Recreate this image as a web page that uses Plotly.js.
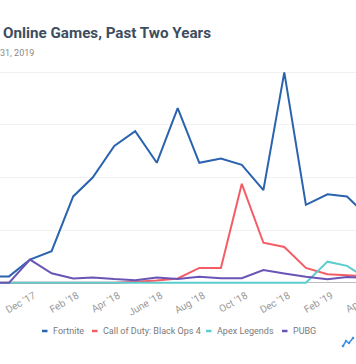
<!DOCTYPE html>
<html>
<head>
<meta charset="utf-8">
<script src="https://cdn.plot.ly/plotly-3.0.1.min.js"></script>
<style>
  html, body { margin: 0; padding: 0; width: 356px; height: 364px; overflow: hidden; background: #fff; }
  #chart { position: absolute; left: -60px; top: 0; width: 476px; height: 364px; }
</style>
</head>
<body>
<div id="chart"></div>
<script>
// ---- data (Google Trends style interest, 0-100) ----
const months = ['2017-10-01','2017-11-01','2017-12-01','2018-01-01','2018-02-01','2018-03-01','2018-04-01',
  '2018-05-01','2018-06-01','2018-07-01','2018-08-01','2018-09-01','2018-10-01','2018-11-01','2018-12-01',
  '2019-01-01','2019-02-01','2019-03-01','2019-04-01'];
const fortnite = [3, 3, 11, 15, 41, 50, 65, 72, 57, 83, 57, 59, 56, 44, 100, 37, 42, 41, 31];
const codBlackOps4 = [0, 0, 0, 0, 0, 0, 0, 0.5, 1, 2, 7, 7, 47, 19, 17, 7, 4, 3.5, 3];
const apexLegends = [0, 0, 0, 0, 0, 0, 0, 0, 0, 0, 0, 0, 0, 0, 0, 0, 10, 8, 1.5];
const pubg = [0, 0, 11, 4.5, 2, 2.5, 1.7, 1.2, 2.5, 1.7, 2.8, 2.1, 2.1, 6, 4.4, 2.8, 1.6, 2.7, 2.2];
const seriesNames = ['Fortnite', 'Call of Duty: Black Ops 4', 'Apex Legends', 'PUBG'];
const tickDates = ['2017-12-01','2018-02-01','2018-04-01','2018-06-01','2018-08-01','2018-10-01','2018-12-01','2019-02-01','2019-04-01'];
const tickLabels = ["Dec '17","Feb '18","Apr '18","June '18","Aug '18","Oct '18","Dec '18","Feb '19","Apr '19"];
const titleText = 'Online Games, Past Two Years';
const subtitleText = '31, 2019';

// ---- styling / geometry ----
const colors = ['#2a63ae', '#f45d66', '#5ccdcf', '#6a55b6'];
const FONT = 'Roboto, "Open Sans", sans-serif';
const DIV_LEFT = 60, DIV_W = 476, H = 364, MT = 66, MB = 75;
const PLOT_H = H - MT - MB;
const px = x => (x + DIV_LEFT) / DIV_W;
const py = y => (H - MB - y) / PLOT_H;

// x range: Dec 1 2017 at page x=30, Mar 1 2019 at page x=347
const tA = Date.parse('2017-12-01T00:00:00Z'), tB = Date.parse('2019-03-01T00:00:00Z');
const mpp = (tB - tA) / (347 - 30);
const xStart = tA - (30 + DIV_LEFT) * mpp;
const xEnd = xStart + DIV_W * mpp;
const iso = t => new Date(t).toISOString().slice(0, 19).replace('T', ' ');

const allSeries = [fortnite, codBlackOps4, apexLegends, pubg];
const traces = allSeries.map((ys, i) => ({
  type: 'scatter', mode: 'lines', x: months, y: ys, name: seriesNames[i],
  line: { color: colors[i], width: 2 }, showlegend: false, hoverinfo: 'skip'
}));

// custom legend (short line symbols)
const legendSym = [42, 92, 206, 282];
const legendY = 331;
const shapes = legendSym.map((sx, i) => ({
  type: 'line', xref: 'paper', yref: 'paper',
  x0: px(sx), x1: px(sx + 5.5), y0: py(legendY), y1: py(legendY),
  line: { color: colors[i], width: 2.5 }
}));
// small logo mark, bottom right
const logoColor = '#3d8fe6';
shapes.push({
  type: 'path', xref: 'paper', yref: 'paper', xsizemode: 'pixel', ysizemode: 'pixel',
  xanchor: px(343), yanchor: py(346),
  path: 'M0,0 L3,5 L6,3 L10,8', line: { color: logoColor, width: 1.5 }
});
[[0, 0], [3, 5], [6, 3], [10, 8]].forEach(([dx, dy]) => shapes.push({
  type: 'circle', xref: 'paper', yref: 'paper', xsizemode: 'pixel', ysizemode: 'pixel',
  xanchor: px(343), yanchor: py(346),
  x0: dx - 1.3, x1: dx + 1.3, y0: dy - 1.3, y1: dy + 1.3,
  fillcolor: logoColor, line: { width: 0 }
}));

const annotations = seriesNames.map((nm, i) => ({
  text: nm, xref: 'paper', yref: 'paper', x: px(legendSym[i] + 8.5), y: py(legendY),
  xanchor: 'left', yanchor: 'middle', showarrow: false,
  font: { family: FONT, size: 9, color: '#7a7a7a' }
}));
annotations.push({
  text: '<b>' + titleText + '</b>', xref: 'paper', yref: 'paper', x: px(0.5), y: py(33),
  xanchor: 'left', yanchor: 'middle', showarrow: false,
  font: { family: FONT, size: 15.2, color: '#3d4d60' }
});
annotations.push({
  text: subtitleText, xref: 'paper', yref: 'paper', x: px(-2), y: py(53.5),
  xanchor: 'left', yanchor: 'middle', showarrow: false,
  font: { family: FONT, size: 9, color: '#8a8a8a' }
});

const layout = {
  width: DIV_W, height: H,
  margin: { l: 0, r: 0, t: MT, b: MB, pad: 0 },
  paper_bgcolor: '#ffffff', plot_bgcolor: '#ffffff',
  showlegend: false,
  xaxis: {
    type: 'date', range: [iso(xStart), iso(xEnd)],
    tickmode: 'array', tickvals: tickDates, ticktext: tickLabels,
    tickangle: -30, ticks: '', showgrid: false, zeroline: false, showline: false,
    tickfont: { family: FONT, size: 10, color: '#9a9a9a' }, ticklabelstandoff: -2, ticklabelshift: 4
  },
  yaxis: {
    range: [-3, 103], tickvals: [0, 25, 50, 75, 100], showticklabels: false,
    showgrid: true, gridcolor: '#f1f1f1', gridwidth: 1,
    zeroline: true, zerolinecolor: '#bdbdbd', zerolinewidth: 1, ticks: ''
  },
  shapes: shapes,
  annotations: annotations
};

Plotly.newPlot('chart', traces, layout, { staticPlot: true, displayModeBar: false });
</script>
</body>
</html>
